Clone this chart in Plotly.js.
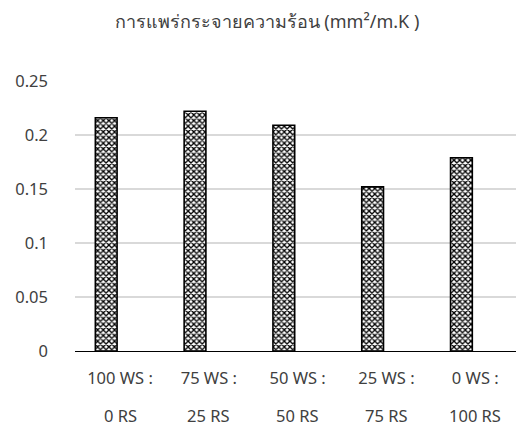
<!DOCTYPE html>
<html>
<head>
<meta charset="utf-8">
<script src="https://cdn.plot.ly/plotly-3.0.1.min.js"></script>
<style>html,body{margin:0;padding:0;background:#fff}#chart{width:516px;height:435px}</style>
</head>
<body>
<div id="chart"></div>
<script>
var categories = ["100 WS : 0 RS", "75 WS : 25 RS", "50 WS : 50 RS", "25 WS : 75 RS", "0 WS : 100 RS"];
var labelLine1 = ["100 WS :", "75 WS :", "50 WS :", "25 WS :", "0 WS :"];
var labelLine2 = ["0 RS", "25 RS", "50 RS", "75 RS", "100 RS"];
var diffusivity = [0.216, 0.222, 0.209, 0.152, 0.179];
var yTickVals = [0, 0.05, 0.1, 0.15, 0.2, 0.25];
var yTickText = ["0", "0.05", "0.1", "0.15", "0.2", "0.25"];
var titleText = "การแพร่กระจายความร้อน (mm²/m.K )";

var FONT = "Noto Sans, DejaVu Sans, sans-serif";
var TXT = "#404040";
var trace = {
  type: "bar",
  x: categories,
  y: diffusivity,
  width: 0.245,
  offset: -0.278,
  marker: {
    color: "#ffffff",
    line: {color: "#000000", width: 1.6},
    pattern: {shape: "x", fgcolor: "#000000", bgcolor: "#ffffff", size: 4, solidity: 0.55}
  },
  hoverinfo: "none"
};

var annotations = categories.map(function (c, i) {
  return {x: c, xref: "x", y: 0, yref: "y", yanchor: "middle", yshift: -64,
    text: labelLine2[i], showarrow: false, font: {family: FONT, size: 16.5, color: TXT}};
});

var layout = {
  width: 516, height: 435,
  margin: {l: 75, r: 0, t: 81, b: 84},
  paper_bgcolor: "#ffffff", plot_bgcolor: "#ffffff",
  showlegend: false,
  title: {text: titleText, x: 267 / 516, xref: "container", xanchor: "center",
    y: 1 - 22 / 435, yref: "container", yanchor: "middle",
    font: {family: FONT, size: 18, color: TXT}},
  xaxis: {
    type: "category", categoryorder: "array", categoryarray: categories,
    range: [-0.507, 4.459],
    tickvals: categories, ticktext: labelLine1,
    tickfont: {family: FONT, size: 16.5, color: TXT},
    showline: true, linecolor: "#000000", linewidth: 1.3,
    ticks: "", showgrid: false, zeroline: false,
    ticklabelstandoff: 12
  },
  yaxis: {
    range: [0, 0.25], tickvals: yTickVals, ticktext: yTickText,
    tickfont: {family: FONT, size: 16.5, color: TXT},
    showgrid: true, gridcolor: "#d9d9d9", gridwidth: 1.3,
    zeroline: false, showline: false, ticks: "",
    ticklabelstandoff: 26
  },
  annotations: annotations
};

Plotly.newPlot("chart", [trace], layout, {displayModeBar: false, staticPlot: true});
</script>
</body>
</html>
